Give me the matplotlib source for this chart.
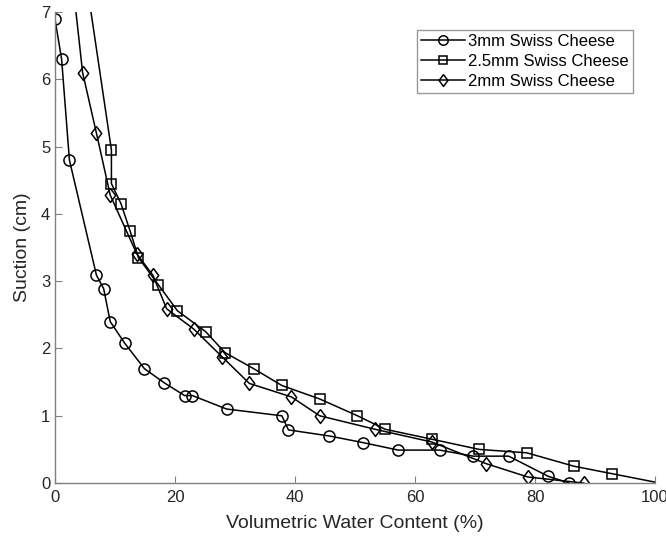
import matplotlib
matplotlib.use("Agg")
from matplotlib import pyplot as plt

plt.rcParams['font.family'] = ['Liberation Sans', 'DejaVu Sans']

# 3mm Swiss Cheese
vwc_3mm = [0.0, 1.1, 2.4, 6.9, 8.1, 9.2, 11.6, 14.9, 18.2, 21.6, 22.9, 28.6, 37.8, 38.9,
           45.7, 51.4, 57.2, 64.1, 69.7, 75.6, 82.2, 85.7]
suction_3mm = [6.89, 6.30, 4.80, 3.09, 2.89, 2.40, 2.08, 1.70, 1.49, 1.30, 1.30, 1.10, 1.00, 0.79,
               0.70, 0.60, 0.49, 0.49, 0.40, 0.40, 0.10, 0.00]

# 2.5mm Swiss Cheese (first and last points lie outside the axes)
vwc_25mm = [3.5, 9.4, 9.4, 11.0, 12.5, 13.9, 17.2, 20.4, 25.1, 28.3, 33.1, 37.8,
            44.1, 50.4, 55.0, 62.9, 70.7, 78.6, 86.5, 92.8, 104.0]
suction_25mm = [8.5, 4.95, 4.45, 4.15, 3.75, 3.35, 2.95, 2.56, 2.25, 1.94, 1.70, 1.45,
                1.25, 1.00, 0.80, 0.65, 0.50, 0.45, 0.25, 0.14, -0.056]

# 2mm Swiss Cheese (first point lies above the axes)
vwc_2mm = [2.5, 4.6, 6.9, 9.2, 13.6, 16.3, 18.6, 23.1, 27.8, 32.4, 39.4, 44.1,
           53.3, 62.8, 71.8, 78.8, 88.1]
suction_2mm = [7.8, 6.10, 5.20, 4.28, 3.41, 3.09, 2.59, 2.29, 1.88, 1.48, 1.28, 1.00,
               0.80, 0.61, 0.29, 0.09, 0.00]

diamond = [(0, 1), (0.75, 0), (0, -1), (-0.75, 0), (0, 1)]

fig = plt.figure(figsize=(6.66, 5.44), dpi=100)
ax = fig.add_axes([0.0826, 0.112, 0.901, 0.866])

style = dict(color="black", linewidth=1.1, markerfacecolor="none", markeredgewidth=1.1)
ax.plot(vwc_3mm, suction_3mm, marker="o", markersize=8, label="3mm Swiss Cheese", **style)
ax.plot(vwc_25mm, suction_25mm, marker="s", markersize=7.5, label="2.5mm Swiss Cheese", **style)
ax.plot(vwc_2mm, suction_2mm, marker=diamond, markersize=10, label="2mm Swiss Cheese", **style)

ax.set_xlim(0, 100)
ax.set_ylim(0, 7)
ax.set_xticks([0, 20, 40, 60, 80, 100])
ax.set_yticks(range(0, 8))

for side in ["top", "right"]:
    ax.spines[side].set_visible(False)
for side in ["left", "bottom"]:
    ax.spines[side].set_color("#808080")
    ax.spines[side].set_linewidth(1.0)
ax.tick_params(direction="in", length=5, color="#808080", labelsize=12, labelcolor="#262626")
ax.tick_params(axis="x", pad=5)

ax.set_xlabel("Volumetric Water Content (%)", fontsize=14, color="#262626", labelpad=7)
ax.set_ylabel("Suction (cm)", fontsize=14, color="#262626", labelpad=7)

leg = ax.legend(loc="upper right", bbox_to_anchor=(0.963, 0.962), fontsize=12,
                fancybox=False, edgecolor="#808080", handlelength=2.6, markerscale=0.85,
                borderpad=0.25, labelspacing=0.3, handletextpad=0.2, borderaxespad=0)
leg.get_frame().set_linewidth(1.0)

fig.savefig("out.png", dpi=100)
